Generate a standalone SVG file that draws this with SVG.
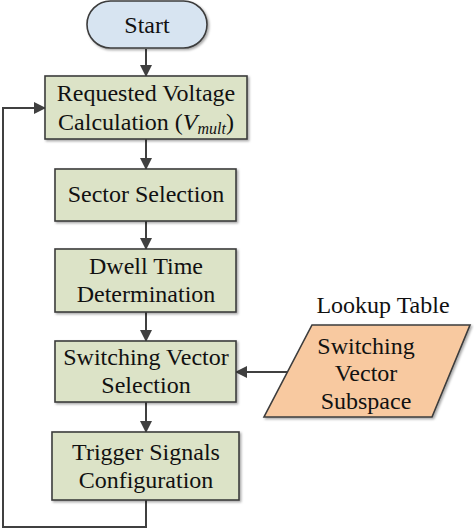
<svg xmlns="http://www.w3.org/2000/svg" width="474" height="530" viewBox="0 0 474 530">
<defs>
<marker id="ah" markerWidth="12" markerHeight="12" refX="11" refY="6" orient="auto" markerUnits="userSpaceOnUse">
<path d="M0,0 L12,6 L0,12 Z" fill="#404040"/>
</marker>
<filter id="sh" x="-10%" y="-10%" width="130%" height="130%">
<feDropShadow dx="1.5" dy="1.5" stdDeviation="0.8" flood-color="#000" flood-opacity="0.35"/>
</filter>
</defs>
<style>
.box{fill:#dce3c7;stroke:#3c3c3c;stroke-width:1.6;filter:url(#sh)}
.start{fill:#d7e4f1;stroke:#3c3c3c;stroke-width:1.6;filter:url(#sh)}
.lut{fill:#f8c9a0;stroke:#3c3c3c;stroke-width:1.6;filter:url(#sh)}
.t{font-family:"Liberation Serif","Times New Roman",serif;font-size:24px;fill:#111;text-anchor:middle}
.c{fill:none;stroke:#404040;stroke-width:2}
</style>
<rect width="474" height="530" fill="#fff"/>
<g id="connectors">
<line class="c" x1="146" y1="49" x2="146" y2="76" marker-end="url(#ah)"/>
<line class="c" x1="146" y1="139" x2="146" y2="169" marker-end="url(#ah)"/>
<line class="c" x1="146" y1="221" x2="146" y2="249" marker-end="url(#ah)"/>
<line class="c" x1="146" y1="312" x2="146" y2="341" marker-end="url(#ah)"/>
<line class="c" x1="146" y1="402" x2="146" y2="432" marker-end="url(#ah)"/>
<line class="c" x1="288" y1="372" x2="236" y2="372" marker-end="url(#ah)"/>
<polyline class="c" points="146,500 146,527 3,527 3,108 45,108" marker-end="url(#ah)"/>
</g>
<g id="start">
<rect class="start" x="87" y="1" width="120" height="47" rx="23.5" ry="23.5"/>
<text class="t" x="147" y="33">Start</text>
</g>
<g id="requested-voltage">
<rect class="box" x="45" y="76" width="202" height="63"/>
<text class="t" x="146" y="101">Requested Voltage</text>
<text class="t" x="146" y="130">Calculation (<tspan font-style="italic">V</tspan><tspan font-style="italic" font-size="16" dy="4">mult</tspan><tspan dy="-4">)</tspan></text>
</g>
<g id="sector-selection">
<rect class="box" x="55" y="169" width="181" height="52"/>
<text class="t" x="146" y="202">Sector Selection</text>
</g>
<g id="dwell-time">
<rect class="box" x="55" y="249" width="181" height="63"/>
<text class="t" x="146" y="274">Dwell Time</text>
<text class="t" x="146" y="302">Determination</text>
</g>
<g id="switching-vector-selection">
<rect class="box" x="55" y="341" width="181" height="61"/>
<text class="t" x="146" y="365">Switching Vector</text>
<text class="t" x="146" y="393">Selection</text>
</g>
<g id="trigger-signals">
<rect class="box" x="52" y="432" width="187" height="68"/>
<text class="t" x="146" y="460">Trigger Signals</text>
<text class="t" x="146" y="488">Configuration</text>
</g>
<g id="lookup-table">
<text class="t" x="383" y="313">Lookup Table</text>
<polygon class="lut" points="312,325 470,325 432,417 264,417"/>
<text class="t" x="366" y="354">Switching</text>
<text class="t" x="366" y="381">Vector</text>
<text class="t" x="366" y="409">Subspace</text>
</g>
</svg>
